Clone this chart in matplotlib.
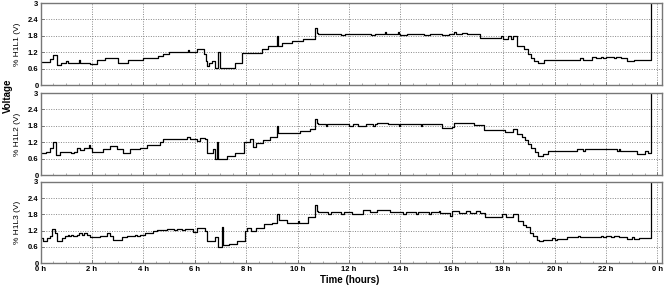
import matplotlib
matplotlib.use("Agg")
import matplotlib.pyplot as plt
from matplotlib.ticker import MultipleLocator

plt.rcParams["font.family"] = ["Liberation Sans", "DejaVu Sans"]

# ---------------------------------------------------------
# Data (hours, volts), step series
# ---------------------------------------------------------
hours_l1 = [0, 0.38, 0.5, 0.62, 0.78, 1.0, 1.05, 1.5, 1.55, 1.94, 2.2, 2.5, 3.0, 3.4,
            4.0, 4.55, 4.75, 5.0, 5.72, 5.78, 6.1, 6.36, 6.42, 6.49, 6.56, 6.66, 6.79,
            6.92, 6.98, 7.56, 7.82, 8.6, 8.86, 9.19, 9.24, 9.38, 9.77, 10.22, 10.68,
            10.74, 10.8, 11.7, 11.85, 12.85, 13.0, 13.4, 13.45, 13.9, 13.95, 14.0,
            14.25, 14.9, 15.15, 15.6, 15.9, 16.1, 16.15, 16.4, 16.6, 17.1, 17.9, 18.0,
            18.2, 18.3, 18.4, 18.55, 18.8, 18.97, 19.1, 19.2, 19.35, 19.6, 20.2, 20.3,
            21.0, 21.1, 21.45, 21.6, 21.8, 21.9, 22.0, 22.3, 22.4, 22.6, 22.8, 23.1,
            23.75, 24.3]
volts_l1 = [0.85, 0.95, 1.1, 0.72, 0.82, 0.87, 0.82, 0.9, 0.82, 0.78, 0.9, 0.98, 0.82, 0.9,
            1.0, 1.05, 1.15, 1.2, 1.27, 1.2, 1.3, 1.12, 0.87, 0.69, 0.81, 0.87, 0.62,
            1.2, 0.62, 0.81, 1.18, 1.3, 1.43, 1.8, 1.43, 1.55, 1.61, 1.7, 2.1,
            1.92, 1.88, 1.82, 1.88, 1.82, 1.88, 1.93, 1.88, 1.93, 1.88, 1.82,
            1.88, 1.82, 1.88, 1.82, 1.88, 1.93, 1.88, 1.92, 1.88, 1.72, 1.78, 1.7,
            1.78, 1.68, 1.78, 1.43, 1.3, 1.12, 1.0, 0.87, 0.81, 0.93, 0.9, 0.93,
            0.99, 0.93, 1.03, 0.97, 1.03, 0.97, 1.03, 0.97, 1.03, 0.97, 0.87, 0.9,
            3.5, 3.5]

hours_l2 = [0, 0.2, 0.37, 0.5, 0.6, 0.75, 1.2, 1.3, 1.4, 1.55, 1.7, 1.88, 1.92, 1.99,
            2.43, 2.7, 2.96, 3.2, 3.47, 3.87, 4.13, 4.65, 4.77, 5.7, 5.8, 6.07, 6.2,
            6.4, 6.46, 6.7, 6.8, 6.85, 6.9, 7.24, 7.56, 7.9, 8.15, 8.27, 8.4, 8.66,
            8.93, 9.19, 9.23, 10.09, 10.48, 10.68, 10.74, 10.8, 11.1, 11.15, 12.0,
            12.15, 12.35, 12.65, 12.95, 13.0, 13.1, 13.5, 13.95, 14.0, 14.8, 14.85,
            15.6, 16.0, 16.1, 16.3, 16.85, 17.27, 18.07, 18.4, 18.55, 18.72, 18.85,
            18.98, 19.1, 19.24, 19.37, 19.55, 19.75, 20.86, 21.1, 21.2, 22.42, 22.5,
            22.55, 23.2, 23.52, 23.62, 23.75, 24.3]
volts_l2 = [0.82, 0.85, 1.0, 1.22, 0.72, 0.85, 0.8, 0.85, 0.97, 0.9, 0.97, 1.1, 0.97, 0.85,
            0.95, 1.05, 0.95, 0.82, 0.95, 1.0, 1.1, 1.2, 1.3, 1.38, 1.3, 1.25, 1.35,
            1.3, 0.82, 0.95, 0.6, 1.2, 0.6, 0.7, 0.8, 1.2, 1.3, 1.03, 1.16, 1.28,
            1.4, 1.79, 1.52, 1.62, 1.68, 2.05, 1.89, 1.85, 1.78, 1.85, 1.78,
            1.85, 1.78, 1.85, 1.78, 1.85, 1.92, 1.85, 1.78, 1.85, 1.78, 1.85,
            1.72, 1.75, 1.91, 1.89, 1.82, 1.66, 1.57, 1.7, 1.5, 1.38, 1.28,
            1.13, 1.0, 0.85, 0.69, 0.77, 0.88, 0.94, 0.88, 0.94, 0.88, 0.94,
            0.88, 0.77, 0.88, 0.8, 3.5, 3.5]

hours_l3 = [0, 0.1, 0.24, 0.37, 0.45, 0.56, 0.63, 0.82, 0.95, 1.05, 1.1, 1.2, 1.25, 1.4,
            1.5, 1.6, 1.7, 1.8, 1.92, 2.31, 2.57, 2.7, 2.83, 3.16, 3.35, 3.67, 3.75,
            3.85, 4.06, 4.39, 4.52, 4.9, 5.2, 5.3, 5.5, 5.6, 5.94, 6.07, 6.4, 6.47,
            6.8, 6.9, 7.05, 7.1, 7.35, 7.63, 7.96, 8.05, 8.2, 8.4, 8.7, 9.0, 9.2,
            9.26, 9.6, 10.0, 10.05, 10.4, 10.68, 10.74, 10.8, 11.2, 11.3, 11.7, 11.8,
            12.1, 12.55, 12.8, 13.1, 13.6, 14.1, 14.2, 14.6, 14.7, 15.1, 15.2, 15.5,
            15.55, 15.93, 16.0, 16.3, 16.55, 16.7, 16.95, 17.1, 17.3, 17.95, 18.1,
            18.4, 18.57, 18.77, 18.9, 19.04, 19.17, 19.3, 19.4, 19.56, 19.9, 20.0,
            20.1, 20.47, 20.9, 21.0, 21.8, 21.9, 22.0, 22.2, 22.3, 22.5, 22.8, 23.0,
            23.1, 23.3, 23.75, 24.3]
volts_l3 = [0.94, 0.81, 0.93, 1.0, 1.25, 1.1, 0.83, 0.93, 1.0, 1.05, 1.0, 1.05, 1.0, 1.05,
            1.1, 1.05, 1.1, 1.05, 0.95, 1.0, 1.1, 1.0, 0.85, 0.95, 1.0, 1.05, 1.0,
            1.05, 1.12, 1.17, 1.22, 1.27, 1.22, 1.27, 1.22, 1.27, 1.15, 1.3, 1.2, 0.83,
            0.98, 0.6, 1.32, 0.65, 0.72, 0.83, 1.2, 1.3, 1.18, 1.28, 1.43, 1.48, 1.8,
            1.58, 1.5, 1.55, 1.5, 1.69, 2.15, 1.92, 1.88, 1.82, 1.88, 1.82, 1.88,
            1.82, 1.95, 1.88, 1.97, 1.88, 1.82, 1.88, 1.82, 1.88, 1.82, 1.88, 1.93,
            1.85, 1.75, 1.92, 1.85, 1.92, 1.85, 1.92, 1.85, 1.7, 1.82, 1.7,
            1.82, 1.55, 1.4, 1.32, 1.1, 1.0, 0.86, 0.82, 0.87, 0.93, 0.87,
            0.9, 0.96, 1.0, 0.96, 1.0, 0.96, 1.0, 0.96, 1.0, 0.96, 0.88, 0.95,
            0.88, 0.92, 3.5, 3.5]

panel_labels = ["% H1L1 (V)", "% H1L2 (V)", "% H1L3 (V)"]
hour_ticks = list(range(0, 25, 2))
hour_labels = [f"{h % 24} h" for h in hour_ticks]
volt_ticks = [0, 0.6, 1.2, 1.8, 2.4, 3]
volt_labels = ["0", "0.6", "1.2", "1.8", "2.4", "3"]

series = [(hours_l1, volts_l1), (hours_l2, volts_l2), (hours_l3, volts_l3)]

# ---------------------------------------------------------
# Figure
# ---------------------------------------------------------
fig = plt.figure(figsize=(6.68, 2.87), dpi=100)

# panel boxes in pixel rows (top, bottom)
rows = [(3, 85), (93, 175), (182, 263)]
left_px, right_px = 40.6, 662
W, H = 668, 287

for i, ((t, v), (top, bot)) in enumerate(zip(series, rows)):
    ax = fig.add_axes([left_px / W, 1 - bot / H, (right_px - left_px) / W, (bot - top) / H])
    ax.plot(t, v, drawstyle="steps-post", color="black", linewidth=0.9)

    ax.set_xlim(0, 24.18)
    ax.set_ylim(0, 3)
    ax.set_xticks(hour_ticks)
    ax.xaxis.set_minor_locator(MultipleLocator(0.5))
    ax.set_yticks(volt_ticks)
    ax.set_yticklabels(volt_labels, fontsize=5.5, fontweight="bold")
    if i == 2:
        ax.set_xticklabels(hour_labels, fontsize=5.5, fontweight="bold")
    else:
        ax.set_xticklabels([])

    ax.tick_params(axis="both", which="major", direction="in", length=2.5,
                   width=0.6, color="#666666", pad=1.5)
    ax.tick_params(axis="x", which="major", pad=2.5)
    ax.tick_params(axis="x", which="minor", direction="in", length=1.8,
                   width=0.5, color="#888888")
    ax.grid(True, which="major", linestyle=(0, (1, 1.5)), color="#888888", linewidth=0.7)

    for s in ax.spines.values():
        s.set_color("#777777")
        s.set_linewidth(1.0)

    ax.set_ylabel(panel_labels[i], fontsize=6, labelpad=5)

fig.text(8 / W, 1 - 96 / H, "Voltage", rotation=90, ha="center", va="center",
         fontsize=7, fontweight="bold")
fig.text(350 / W, 1 - 280 / H, "Time (hours)", ha="center", va="center",
         fontsize=7, fontweight="bold")

fig.savefig("out.png", dpi=100)
